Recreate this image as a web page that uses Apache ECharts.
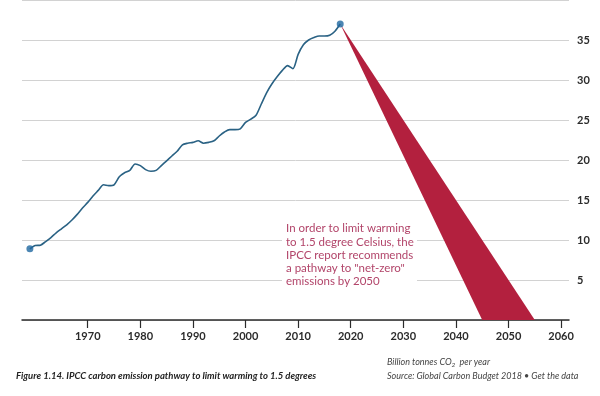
<!DOCTYPE html>
<html>
<head>
<meta charset="utf-8">
<script src="https://cdn.jsdelivr.net/npm/echarts@6/dist/echarts.min.js"></script>
<style>
  html, body { margin: 0; padding: 0; background: #fff; }
  #chart { width: 600px; height: 396px; }
</style>
</head>
<body>
<div id="chart"></div>
<script>
// 全球化石燃料 CO2 排放（十亿吨/年），读自原图
const years = [];
for (let y = 1959; y <= 2018; y++) years.push(y);
const emissions = [
  8.9, 9.3, 9.35, 9.8, 10.3, 10.9, 11.4, 11.9, 12.5, 13.2,
  14.0, 14.7, 15.5, 16.2, 16.9, 16.8, 16.9, 17.9, 18.4, 18.7,
  19.5, 19.3, 18.8, 18.6, 18.7, 19.3, 19.9, 20.5, 21.1, 21.9,
  22.1, 22.2, 22.4, 22.1, 22.2, 22.4, 23.0, 23.5, 23.8, 23.8,
  23.9, 24.7, 25.1, 25.6, 27.0, 28.4, 29.5, 30.4, 31.2, 31.8,
  31.4, 33.2, 34.4, 35.0, 35.3, 35.5, 35.5, 35.6, 36.1, 37.0
];
// 净零路径楔形：从2018年出发，到2045-2055年降至0
const netZeroYears = [2045, 2055];
const netZeroValue = 0;
const tickYears = [1970, 1980, 1990, 2000, 2010, 2020, 2030, 2040, 2050, 2060];
const yTicks = [5, 10, 15, 20, 25, 30, 35];

const lineData = years.map((y, i) => [y, emissions[i]]);
const last = lineData[lineData.length - 1];
const endpoints = [lineData[0], last];

let chart = echarts.init(document.getElementById('chart'));

let option = {
  animation: false,
  grid: { left: 22, right: 31, top: -6.5, bottom: 76 },
  xAxis: {
    type: 'value',
    min: 1957.5,
    max: 2061.5,
    splitLine: { show: false },
    axisLine: { show: true, lineStyle: { color: '#2b2b2b', width: 1.5 } },
    axisTick: { show: true, customValues: tickYears, length: 8, lineStyle: { color: '#2b2b2b', width: 1.2 } },
    axisLabel: {
      customValues: tickYears,
      formatter: v => String(v),
      color: '#2b2b2b', fontSize: 11, fontFamily: 'Lato', fontWeight: 'bold', margin: 11
    }
  },
  yAxis: {
    type: 'value',
    position: 'right',
    min: 0,
    max: 40,
    interval: 5,
    axisLine: { show: false },
    axisTick: { show: false },
    splitLine: { lineStyle: { color: '#d2d2d2', width: 1 } },
    axisLabel: {
      margin: 8,
      color: '#2b2b2b', fontSize: 11, fontFamily: 'Lato', fontWeight: 'bold',
      formatter: v => (yTicks.indexOf(v) >= 0 ? String(v) : '')
    }
  },
  series: [
    {
      type: 'custom',
      z: 3,
      data: [[last[0], last[1], netZeroYears[0], netZeroValue, netZeroYears[1], netZeroValue]],
      renderItem: function (params, api) {
        const pts = [
          api.coord([api.value(0), api.value(1)]),
          api.coord([api.value(2), api.value(3)]),
          api.coord([api.value(4), api.value(5)])
        ];
        return { type: 'polygon', shape: { points: pts }, style: { fill: '#b3203e' } };
      }
    },
    {
      type: 'line',
      z: 4,
      data: lineData,
      symbol: 'none',
      smooth: 0.25,
      lineStyle: { color: '#2a6284', width: 1.6 }
    },
    {
      type: 'scatter',
      z: 5,
      data: endpoints,
      symbolSize: 7,
      itemStyle: { color: '#1f68a0' }
    }
  ],
  graphic: [
    {
      type: 'rect',
      left: 282, top: 219,
      shape: { width: 135, height: 68 },
      style: { fill: '#fff' },
      z: 10
    },
    {
      type: 'text',
      left: 286, top: 222,
      z: 11,
      style: {
        text: 'In order to limit warming\nto 1.5 degree Celsius, the\nIPCC report recommends\na pathway to "net-zero"\nemissions by 2050',
        fill: '#b2456a', fontSize: 11.5, lineHeight: 13.2, fontFamily: 'Lato'
      }
    },
    {
      type: 'text',
      left: 16, top: 371,
      style: {
        text: 'Figure 1.14. IPCC carbon emission pathway to limit warming to 1.5 degrees',
        fill: '#222', fontSize: 9.5, fontStyle: 'italic', fontWeight: 'bold', fontFamily: 'Lato'
      }
    },
    {
      type: 'text',
      left: 387, top: 358,
      style: {
        rich: { sub: { fontSize: 6.5, verticalAlign: 'bottom', padding: [4, 0, 0, 0], fill: '#444', fontStyle: 'italic', fontFamily: 'Lato' } },
        text: 'Billion tonnes CO{sub|2}  per year',
        fill: '#444', fontSize: 9, fontStyle: 'italic', fontFamily: 'Lato'
      }
    },
    {
      type: 'text',
      left: 387, top: 372,
      style: {
        text: 'Source: Global Carbon Budget 2018 \u2022 Get the data',
        fill: '#444', fontSize: 9, fontStyle: 'italic', fontFamily: 'Lato'
      }
    }
  ]
};

chart.setOption(option);
</script>
</body>
</html>
